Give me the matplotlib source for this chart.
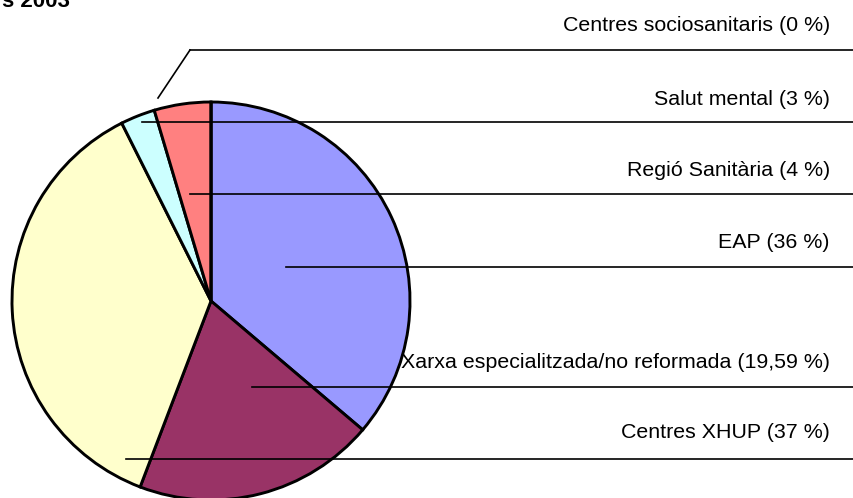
import matplotlib.pyplot as plt

plt.rcParams['font.family'] = ['Liberation Sans', 'DejaVu Sans']

# slices, clockwise from 12 o'clock
categories = ["EAP", "Xarxa especialitzada/no reformada", "Centres XHUP",
              "Salut mental", "Regió Sanitària", "Centres sociosanitaris"]
shares = [36.2, 19.59, 36.8, 2.8, 4.6, 0.0]
shown_pct = ["36", "19,59", "37", "3", "4", "0"]
colors = ["#9999FF", "#993366", "#FFFFCC", "#CCFFFF", "#FF8080", "#0066CC"]

# label layout (pixels from top-left): text centre y, leader y, leader start x
label_y = {"Centres sociosanitaris": 25, "Salut mental": 99, "Regió Sanitària": 170,
           "EAP": 242, "Xarxa especialitzada/no reformada": 363, "Centres XHUP": 433}
leader_y = {"Centres sociosanitaris": 50, "Salut mental": 122, "Regió Sanitària": 194,
            "EAP": 267, "Xarxa especialitzada/no reformada": 387, "Centres XHUP": 459}
leader_x = {"Centres sociosanitaris": 190, "Salut mental": 142, "Regió Sanitària": 190,
            "EAP": 286, "Xarxa especialitzada/no reformada": 252, "Centres XHUP": 126}

W, H = 854, 498
fig = plt.figure(figsize=(W / 100, H / 100), dpi=100)
ax = fig.add_axes([0, 0, 1, 1])

ax.pie(shares, colors=colors, startangle=90, counterclock=False,
       center=(211, H - 301), radius=199,
       wedgeprops=dict(edgecolor="black", linewidth=2.1))

ax.set_xlim(0, W)
ax.set_ylim(0, H)
ax.set_aspect("equal")
ax.axis("off")

for name, pct in zip(categories, shown_pct):
    ax.text(830, H - label_y[name], f"{name} ({pct} %)", ha="right", va="center",
            fontsize=15.4, color="black")
    ly = H - leader_y[name]
    ax.plot([leader_x[name], W], [ly, ly], color="black", lw=1.2, clip_on=False)

# small slice gets an elbow leader
ax.plot([158, 190], [H - 98, H - 50], color="black", lw=1.2)

ax.text(70, H - 7, "s 2003", ha="right", va="baseline", fontsize=16,
        fontweight="bold")

fig.savefig("out.png", dpi=100)
